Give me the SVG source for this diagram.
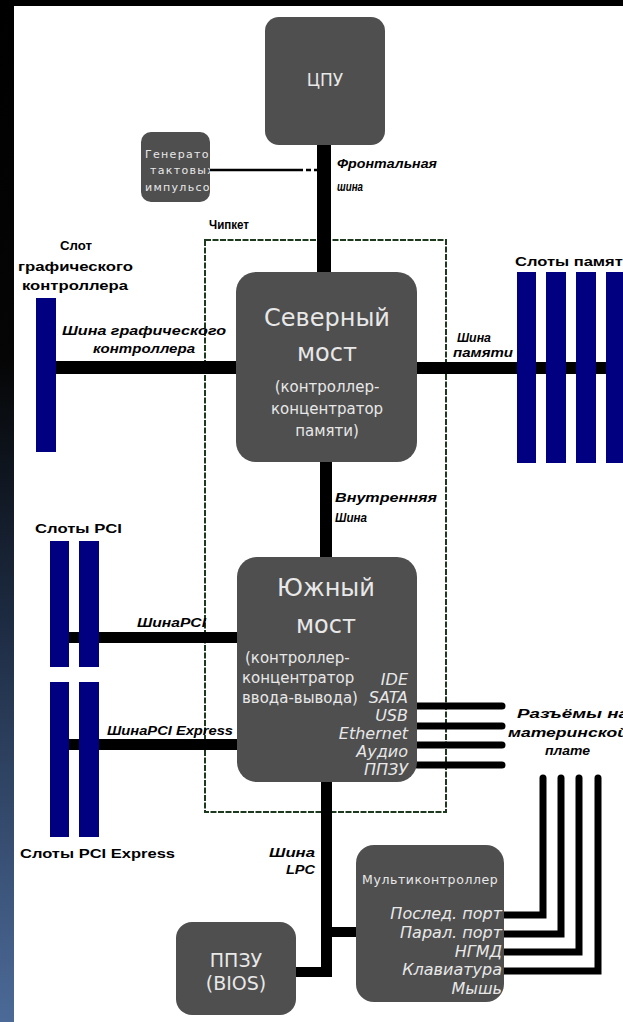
<svg xmlns="http://www.w3.org/2000/svg" width="623" height="1022" viewBox="0 0 623 1022">
<defs>
<linearGradient id="strip" x1="0" y1="0" x2="0" y2="1">
<stop offset="0" stop-color="#000"/>
<stop offset="0.35" stop-color="#050505"/>
<stop offset="0.6" stop-color="#1c2a40"/>
<stop offset="1" stop-color="#4c6a98"/>
</linearGradient>
<clipPath id="clipGen"><rect x="141" y="132" width="69" height="70" rx="10"/></clipPath>
<clipPath id="clipMC"><rect x="356" y="845" width="148" height="157" rx="18"/></clipPath>
</defs>
<style>
.box{fill:#4f4f4f}
.slot{fill:#000080}
.bus{fill:#000}
.wire{fill:none;stroke:#000;stroke-width:7}
.t{font-family:"DejaVu Sans",sans-serif;fill:#e8e8e8}
.big{font-size:24px;text-anchor:middle}
.sm{font-size:15px}
.it{font-style:italic;font-size:16px;text-anchor:end}
.lbl{font-family:"Liberation Sans",Arial,sans-serif;font-weight:bold;font-style:italic;font-size:12.5px;fill:#000}
.lb{font-family:"Liberation Sans",Arial,sans-serif;font-weight:bold;font-size:12.5px;fill:#000}
</style>
<rect x="0" y="0" width="623" height="1022" fill="#000"/>
<rect x="0" y="0" width="14" height="1022" fill="url(#strip)"/>
<rect x="14" y="6" width="609" height="1016" fill="#fff"/>

<g id="chipset">
<rect x="205" y="240" width="241" height="572" fill="none" stroke="#1e3a1e" stroke-width="2" stroke-dasharray="6 1.5"/>
<text class="lb" x="209" y="229" textLength="40" lengthAdjust="spacingAndGlyphs">Чипкет</text>
</g>

<g id="connectors">
<rect class="bus" x="317" y="145" width="14" height="127"/>
<line x1="210" y1="170" x2="298" y2="170" stroke="#000" stroke-width="2.5"/>
<line x1="298" y1="170" x2="318" y2="170" stroke="#000" stroke-width="2.5" stroke-dasharray="5 3"/>
<rect class="bus" x="56" y="361" width="180" height="13"/>
<rect class="bus" x="417" y="362" width="206" height="12"/>
<rect class="bus" x="320" y="462" width="12" height="95"/>
<rect class="bus" x="60" y="632" width="177" height="11"/>
<rect class="bus" x="60" y="739" width="177" height="11"/>
<path class="wire" d="M417 706H502M417 726H502M417 745H502M417 765H502" stroke-linecap="round"/>
<rect class="bus" x="321" y="782" width="11" height="195"/>
<rect class="bus" x="321" y="927" width="35" height="10"/>
<rect class="bus" x="296" y="967" width="36" height="10"/>
<path class="wire" d="M504 915H543V778M504 934H561V778M504 952H579V778M504 971H598V778"/>
<path d="M539.5 778a3.5 3.5 0 0 1 7 0M557.5 778a3.5 3.5 0 0 1 7 0M575.5 778a3.5 3.5 0 0 1 7 0M594.5 778a3.5 3.5 0 0 1 7 0" fill="#000"/>
</g>

<g id="cpu">
<rect class="box" x="265" y="17" width="120" height="128" rx="14"/>
<text class="t" x="325" y="86" font-size="17" text-anchor="middle">ЦПУ</text>
</g>

<g id="clock">
<rect class="box" x="141" y="132" width="69" height="70" rx="10"/>
<g clip-path="url(#clipGen)">
<text class="t" x="145" y="158" font-size="11" letter-spacing="1.3">Генератор</text>
<text class="t" x="150" y="174" font-size="11" letter-spacing="1.3">тактовых</text>
<text class="t" x="145" y="191" font-size="11" letter-spacing="1.3">импульсов</text>
</g>
</g>

<g id="northbridge">
<rect class="box" x="236" y="272" width="181" height="190" rx="20"/>
<text class="t big" x="327" y="326">Северный</text>
<text class="t big" x="327" y="361">мост</text>
<text class="t sm" x="327" y="392" text-anchor="middle">(контроллер-</text>
<text class="t sm" x="327" y="414" text-anchor="middle">концентратор</text>
<text class="t sm" x="327" y="436" text-anchor="middle">памяти)</text>
</g>

<g id="southbridge">
<rect class="box" x="237" y="557" width="180" height="225" rx="20"/>
<text class="t big" x="326" y="596">Южный</text>
<text class="t big" x="326" y="633">мост</text>
<text class="t sm" x="245" y="663">(контроллер-</text>
<text class="t sm" x="242" y="683">концентратор</text>
<text class="t sm" x="242" y="703">ввода-вывода)</text>
<text class="t it" x="408" y="685">IDE</text>
<text class="t it" x="408" y="703">SATA</text>
<text class="t it" x="408" y="721">USB</text>
<text class="t it" x="408" y="739">Ethernet</text>
<text class="t it" x="408" y="757">Аудио</text>
<text class="t it" x="408" y="775">ППЗУ</text>
</g>

<g id="multicontroller">
<rect class="box" x="356" y="845" width="148" height="157" rx="18"/>
<g clip-path="url(#clipMC)">
<text class="t" x="362" y="884" font-size="12.5" letter-spacing="0.6">Мультиконтроллер</text>
</g>
<text class="t it" x="502" y="919">Послед. порт</text>
<text class="t it" x="502" y="938">Парал. порт</text>
<text class="t it" x="502" y="957">НГМД</text>
<text class="t it" x="502" y="975">Клавиатура</text>
<text class="t it" x="502" y="994">Мышь</text>
</g>

<g id="bios">
<rect class="box" x="176" y="922" width="120" height="93" rx="16"/>
<text class="t" x="236" y="967" font-size="19" text-anchor="middle">ППЗУ</text>
<text class="t" x="236" y="990" font-size="19" text-anchor="middle">(BIOS)</text>
</g>

<g id="graphics-slot">
<rect class="slot" x="36" y="298" width="20" height="154"/>
<text class="lb" x="60" y="250" textLength="32" lengthAdjust="spacingAndGlyphs">Слот</text>
<text class="lb" x="18" y="271" textLength="115" lengthAdjust="spacingAndGlyphs">графического</text>
<text class="lb" x="22" y="290" textLength="106" lengthAdjust="spacingAndGlyphs">контроллера</text>
</g>

<g id="memory-slots">
<rect class="slot" x="517" y="272" width="19" height="191"/>
<rect class="slot" x="546" y="272" width="20" height="191"/>
<rect class="slot" x="576" y="272" width="20" height="191"/>
<rect class="slot" x="606" y="272" width="20" height="191"/>
<text class="lb" x="515" y="266" textLength="118" lengthAdjust="spacingAndGlyphs">Слоты памяти</text>
</g>

<g id="pci-slots">
<rect class="slot" x="50" y="541" width="19" height="126"/>
<rect class="slot" x="79" y="541" width="20" height="126"/>
<text class="lb" x="35" y="533" textLength="87" lengthAdjust="spacingAndGlyphs">Слоты PCI</text>
</g>

<g id="pcie-slots">
<rect class="slot" x="50" y="682" width="19" height="155"/>
<rect class="slot" x="79" y="682" width="20" height="155"/>
<text class="lb" x="20" y="858" textLength="155" lengthAdjust="spacingAndGlyphs">Слоты PCI Express</text>
</g>

<g id="labels">
<text class="lbl" x="337" y="168" textLength="100" lengthAdjust="spacingAndGlyphs">Фронтальная</text>
<text class="lbl" x="337" y="191" textLength="26" lengthAdjust="spacingAndGlyphs">шина</text>
<text class="lbl" x="62" y="335" textLength="164" lengthAdjust="spacingAndGlyphs">Шина графического</text>
<text class="lbl" x="93" y="353" textLength="102" lengthAdjust="spacingAndGlyphs">контроллера</text>
<text class="lbl" x="457" y="342" textLength="34" lengthAdjust="spacingAndGlyphs">Шина</text>
<text class="lbl" x="453" y="357" textLength="60" lengthAdjust="spacingAndGlyphs">памяти</text>
<text class="lbl" x="335" y="502" textLength="102" lengthAdjust="spacingAndGlyphs">Внутренняя</text>
<text class="lbl" x="335" y="522" textLength="32" lengthAdjust="spacingAndGlyphs">Шина</text>
<text class="lbl" x="137" y="627" textLength="69" lengthAdjust="spacingAndGlyphs">ШинаPCI</text>
<text class="lbl" x="107" y="735" textLength="126" lengthAdjust="spacingAndGlyphs">ШинаPCI Express</text>
<text class="lbl" x="517" y="718" textLength="112" lengthAdjust="spacingAndGlyphs">Разъёмы на</text>
<text class="lbl" x="508" y="737" textLength="120" lengthAdjust="spacingAndGlyphs">материнской</text>
<text class="lbl" x="545" y="755" textLength="45" lengthAdjust="spacingAndGlyphs">плате</text>
<text class="lbl" x="269" y="857" textLength="46" lengthAdjust="spacingAndGlyphs">Шина</text>
<text class="lbl" x="286" y="874" textLength="29" lengthAdjust="spacingAndGlyphs">LPC</text>
</g>
</svg>
